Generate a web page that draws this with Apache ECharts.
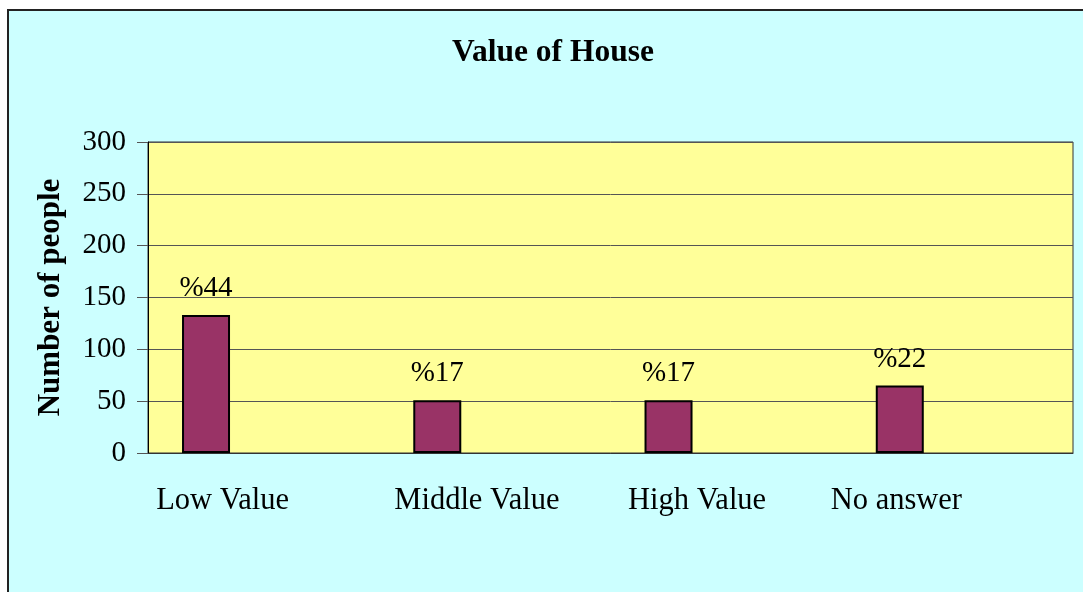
<!DOCTYPE html>
<html>
<head>
<meta charset="utf-8">
<title>Value of House</title>
<script src="https://cdn.jsdelivr.net/npm/echarts@6/dist/echarts.min.js"></script>
<style>
    html, body { margin: 0; padding: 0; background: #fff; }
    #main { width: 1083px; height: 592px; }
</style>
</head>
<body>
<div id="main"></div>
<script>
// data
var categories = ['Low Value', 'Middle Value', 'High Value', 'No answer'];
var people = [133, 51, 51, 65];
var yTicks = [0, 50, 100, 150, 200, 250, 300];

var total = people.reduce(function(a, b) { return a + b; }, 0);
// label nudges (excel puts the category text a bit left of center)
var labelShift = [-41, -18, -29, -61];

var serif = "'Liberation Serif', 'Times New Roman', serif";

var myChart = echarts.init(document.getElementById('main'));

var rich = {};
labelShift.forEach(function(s, i) {
    rich['c' + i] = {
        fontFamily: serif,
        fontSize: 30.5,
        color: '#000',
        padding: [0, -2 * s, 0, 0]
    };
});

option = {
    backgroundColor: '#CCFFFF',
    animation: false,
    title: {
        text: 'Value of House',
        left: 548,
        textAlign: 'center',
        top: 32,
        textStyle: {
            fontFamily: serif,
            fontWeight: 'bold',
            fontSize: 31.5,
            color: '#000'
        }
    },
    graphic: [
        { type: 'rect', shape: { x: 0, y: 0, width: 1083, height: 9 }, style: { fill: '#fff' } },
        { type: 'rect', shape: { x: 0, y: 0, width: 7, height: 592 }, style: { fill: '#fff' } },
        { type: 'polyline', shape: { points: [[8, 592], [8, 10], [1083, 10]] }, style: { stroke: '#222', lineWidth: 2, fill: null } }
    ],
    grid: {
        left: 148,
        right: 10,
        top: 142,
        bottom: 139,
        show: true,
        backgroundColor: '#FFFF99',
        borderColor: '#333',
        borderWidth: 1
    },
    xAxis: {
        type: 'category',
        data: categories,
        axisTick: { show: false },
        axisLine: { lineStyle: { color: '#333', width: 1 } },
        axisLabel: {
            margin: 32,
            formatter: function(v, i) {
                return '{c' + i + '|' + v + '}';
            },
            rich: rich
        }
    },
    yAxis: {
        type: 'value',
        min: yTicks[0],
        max: yTicks[yTicks.length - 1],
        interval: yTicks[1] - yTicks[0],
        name: 'Number of people',
        nameLocation: 'middle',
        nameRotate: 90,
        nameGap: 82,
        nameTextStyle: {
            fontFamily: serif,
            fontWeight: 'bold',
            fontSize: 31,
            color: '#000'
        },
        axisLine: { show: true, lineStyle: { color: '#000', width: 1 } },
        axisTick: { show: true, length: 11, lineStyle: { color: '#555' } },
        axisLabel: {
            margin: 22,
            fontFamily: serif,
            fontSize: 29,
            color: '#000'
        },
        splitLine: { lineStyle: { color: '#555', width: 1 } }
    },
    series: [{
        name: 'people',
        type: 'bar',
        data: people,
        barWidth: 48,
        barGap: '140%',
        itemStyle: {
            color: '#993366',
            borderColor: '#000',
            borderWidth: 2
        },
        label: {
            show: true,
            position: 'top',
            distance: 12,
            fontFamily: serif,
            fontSize: 29,
            color: '#000',
            formatter: function(p) {
                return '%' + Math.round(p.value / total * 100);
            }
        }
    }, {
        // empty second series, only there to push the bars left like in the original
        name: 'blank',
        type: 'bar',
        data: categories.map(function() { return '-'; }),
        barWidth: 48,
        barGap: '140%'
    }]
};

myChart.setOption(option);
</script>
</body>
</html>
